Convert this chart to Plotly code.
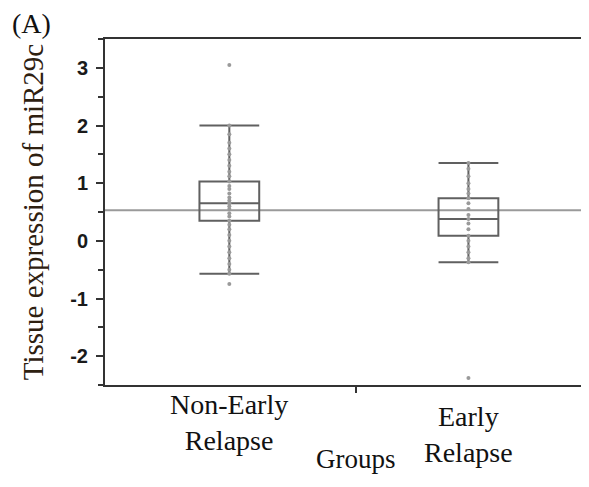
import plotly.graph_objects as go

groups = ["Non-Early<br>Relapse", "Early<br>Relapse"]
group_pos = [0, 1]
q1 = [0.35, 0.09]
median = [0.65, 0.38]
q3 = [1.03, 0.74]
lower_whisker = [-0.57, -0.37]
upper_whisker = [2.0, 1.35]
grand_mean = 0.53
y_tick_vals = [-2, -1, 0, 1, 2, 3]
y_tick_text = ["-2", "-1", "0", "1", "2", "3"]

points_non_early = [3.05, 2.0, 1.85, 1.7, 1.6, 1.5, 1.4, 1.3, 1.2, 1.12, 1.03, 0.95, 0.9,
                    0.82, 0.75, 0.7, 0.65, 0.6, 0.55, 0.48, 0.42, 0.35, 0.28, 0.2, 0.1,
                    0.0, -0.1, -0.2, -0.3, -0.4, -0.5, -0.57, -0.75]
points_early = [1.35, 1.25, 1.12, 1.0, 0.9, 0.82, 0.74, 0.65, 0.55, 0.45, 0.38, 0.3,
                0.2, 0.09, 0.0, -0.1, -0.2, -0.3, -0.37, -2.38]

fig = go.Figure()

for pos, pts in zip(group_pos, [points_non_early, points_early]):
    fig.add_trace(go.Scatter(
        x=[pos] * len(pts), y=pts, mode="markers",
        marker=dict(color="#9a9a9a", size=4),
        showlegend=False, hoverinfo="y"))

for i in range(2):
    fig.add_trace(go.Box(
        x=[group_pos[i]], q1=[q1[i]], median=[median[i]], q3=[q3[i]],
        lowerfence=[lower_whisker[i]], upperfence=[upper_whisker[i]],
        width=0.25, whiskerwidth=1, boxpoints=False,
        line=dict(color="#606060", width=2),
        fillcolor="rgba(0,0,0,0)", showlegend=False))

fig.add_shape(type="line", xref="paper", yref="y", x0=0, x1=1, y0=grand_mean, y1=grand_mean,
              line=dict(color="#9a9a9a", width=2), layer="below")

serif = "Times New Roman, Liberation Serif, serif"

fig.update_layout(
    width=581, height=479,
    margin=dict(l=97, r=2, t=31, b=102),
    paper_bgcolor="white", plot_bgcolor="white",
    showlegend=False,
    xaxis=dict(range=[-0.52, 1.4875], tickvals=[0.53], ticktext=[""],
               ticks="outside", ticklen=6, tickwidth=2, tickcolor="#333",
               showline=True, linecolor="#333", linewidth=2, mirror=True,
               showgrid=False, zeroline=False),
    yaxis=dict(range=[-2.5, 3.5], tickvals=y_tick_vals, ticktext=y_tick_text,
               ticks="outside", ticklen=7, tickwidth=2, tickcolor="#333",
               ticklabelstandoff=4,
               minor=dict(dtick=0.5, tick0=0.5, ticks="outside", ticklen=5,
                          tickwidth=2, tickcolor="#333"),
               tickfont=dict(family="Liberation Sans Narrow, Arial Narrow, Liberation Sans",
                             size=20, color="#1a1a1a", weight="bold"),
               showline=True, linecolor="#333", linewidth=2, mirror=True,
               showgrid=False, zeroline=False,
               title=dict(text="Tissue expression of miR29c",
                          font=dict(family=serif, size=29, color="#2e2010"),
                          standoff=18)),
)

fig.add_annotation(text="(A)", xref="paper", yref="paper", x=0, xshift=-95, y=1.0,
                   xanchor="left", yanchor="bottom", yshift=-2, showarrow=False,
                   font=dict(family=serif, size=28, color="#111"))
fig.add_annotation(text=groups[0], x=group_pos[0], xref="x", yref="paper", y=0,
                   yanchor="top", yshift=-2, showarrow=False,
                   font=dict(family=serif, size=28, color="#111"))
fig.add_annotation(text=groups[1], x=group_pos[1], xref="x", yref="paper", y=0,
                   yanchor="top", yshift=-14, showarrow=False,
                   font=dict(family=serif, size=28, color="#111"))
fig.add_annotation(text="Groups", x=0.53, xref="x", yref="paper", y=0,
                   yanchor="top", yshift=-57, showarrow=False,
                   font=dict(family=serif, size=27, color="#111"))

fig.write_html("out.html")
